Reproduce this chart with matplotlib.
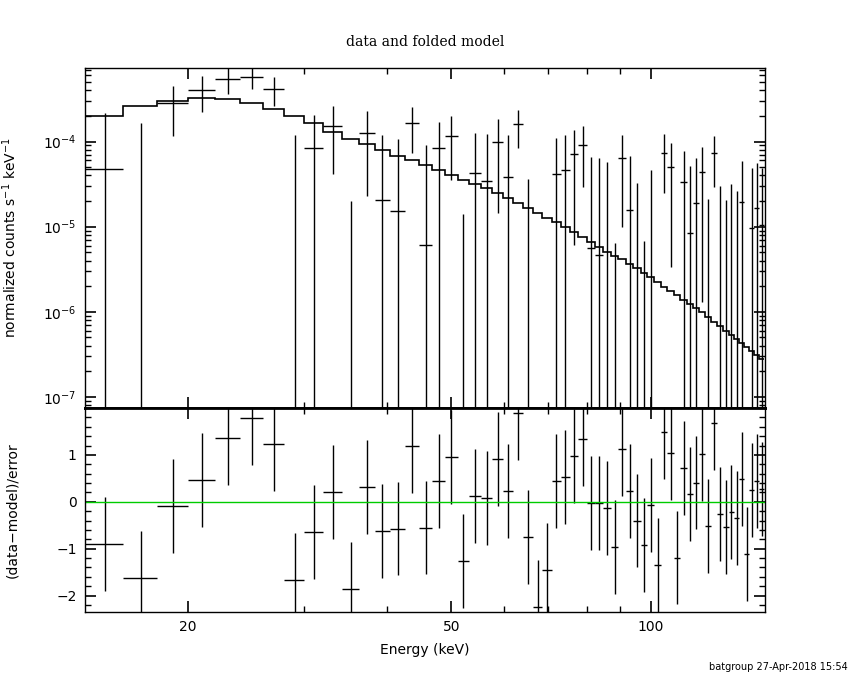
import numpy as np
import matplotlib
matplotlib.use('Agg')
import matplotlib.pyplot as plt
from matplotlib.ticker import FixedLocator, NullFormatter, LogLocator

# bin edges (keV)
edges = [14.0, 16.0, 18.0, 20.0, 22.0, 24.0, 26.0, 28.0, 30.0, 32.0,
         34.2, 36.3, 38.3, 40.4, 42.6, 44.7, 46.8, 48.9, 51.1, 53.2,
         55.4, 57.6, 59.8, 62.0, 64.2, 66.4, 68.6, 70.9, 73.2, 75.4,
         77.7, 80.1, 82.4, 84.7, 87.0, 89.3, 91.7, 94.1, 96.5, 98.8,
         101.2, 103.5, 105.9, 108.3, 110.8, 113.3, 115.8, 118.2, 120.6, 123.2,
         125.8, 128.5, 131.1, 133.6, 136.0, 138.4, 140.8, 143.3, 145.8, 148.3]

# folded model (counts s^-1 keV^-1)
model = [1.97e-4, 2.61e-4, 2.99e-4, 3.27e-4, 3.17e-4, 2.83e-4, 2.38e-4, 1.99e-4, 1.64e-4, 1.31e-4,
         1.07e-4, 9.31e-5, 7.92e-5, 6.85e-5, 6.04e-5, 5.32e-5, 4.65e-5, 4.06e-5, 3.51e-5, 3.18e-5,
         2.83e-5, 2.49e-5, 2.16e-5, 1.88e-5, 1.67e-5, 1.46e-5, 1.28e-5, 1.13e-5, 9.83e-6, 8.59e-6,
         7.50e-6, 6.55e-6, 5.82e-6, 5.09e-6, 4.52e-6, 4.13e-6, 3.64e-6, 3.24e-6, 2.83e-6, 2.54e-6,
         2.22e-6, 1.97e-6, 1.77e-6, 1.57e-6, 1.38e-6, 1.23e-6, 1.10e-6, 9.84e-7, 8.59e-7, 7.62e-7,
         6.79e-7, 5.97e-7, 5.36e-7, 4.77e-7, 4.32e-7, 3.87e-7, 3.47e-7, 3.09e-7, 2.78e-7]

# data points and 1-sigma errors
data = [4.73e-5, -5.1e-6, 2.85e-4, 4.03e-4, 5.42e-4, 5.71e-4, 4.17e-4, -3.0e-6, 8.36e-5, 1.52e-4,
        -8.1e-5, 1.26e-4, 2.06e-5, 1.53e-5, 1.64e-4, 6.04e-6, 8.36e-5, 1.17e-4, -6.67e-5, 4.25e-5,
        3.42e-5, 9.84e-5, 3.87e-5, 1.60e-4, -4.24e-5, -1.54e-4, -9.6e-5, 4.13e-5, 4.6e-5, 7.11e-5,
        9.14e-5, 5.66e-6, 4.65e-6, -2.7e-6, -5.06e-5, 6.38e-5, 1.57e-5, -1.64e-5, -4.32e-5, -7.7e-7,
        -6.08e-5, 7.31e-5, 5.0e-5, -5.3e-5, 3.33e-5, 8.36e-6, 1.88e-5, 4.36e-5, -2.12e-5, 7.31e-5,
        -9.8e-6, -2.31e-5, -8.3e-6, -1.35e-5, 1.97e-5, -4.29e-5, 9.57e-6, 1.64e-5, 1.05e-5]

error = [1.71e-4, 1.68e-4, 1.68e-4, 1.78e-4, 1.80e-4, 1.58e-4, 1.54e-4, 1.21e-4, 1.22e-4, 1.10e-4,
         1.01e-4, 1.03e-4, 9.74e-5, 9.27e-5, 9.10e-5, 8.50e-5, 8.80e-5, 8.20e-5, 8.08e-5, 8.40e-5,
         8.70e-5, 8.40e-5, 7.90e-5, 7.60e-5, 7.88e-5, 7.50e-5, 7.50e-5, 6.90e-5, 7.20e-5, 6.50e-5,
         6.20e-5, 6.00e-5, 5.90e-5, 6.00e-5, 5.70e-5, 5.40e-5, 5.27e-5, 4.91e-5, 5.00e-5, 4.73e-5,
         4.70e-5, 4.80e-5, 4.66e-5, 4.60e-5, 4.38e-5, 4.38e-5, 4.55e-5, 4.23e-5, 4.24e-5, 4.40e-5,
         4.02e-5, 4.39e-5, 4.01e-5, 4.00e-5, 3.91e-5, 3.90e-5, 3.90e-5, 3.97e-5, 3.90e-5]

# (data-model)/error
resid = [-0.90, -1.62, -0.09, 0.46, 1.36, 1.78, 1.23, -1.67, -0.64, 0.21,
         -1.86, 0.31, -0.62, -0.57, 1.19, -0.55, 0.44, 0.95, -1.26, 0.12,
         0.08, 0.91, 0.23, 1.89, -0.75, -2.25, -1.45, 0.44, 0.53, 0.97,
         1.33, -0.02, -0.02, -0.13, -0.96, 1.12, 0.23, -0.40, -0.92, -0.07,
         -1.34, 1.48, 1.04, -1.19, 0.72, 0.16, 0.41, 1.02, -0.52, 1.67,
         -0.26, -0.54, -0.22, -0.35, 0.49, -1.11, 0.25, 0.45, 0.27]

edges = np.array(edges)
model = np.array(model)
data = np.array(data)
error = np.array(error)
resid = np.array(resid)
e_lo, e_hi = edges[:-1], edges[1:]
e_mid = 0.5 * (e_lo + e_hi)

plt.rcParams['font.family'] = 'DejaVu Sans'

fig = plt.figure(figsize=(8.5, 6.8), dpi=100)
ax1 = fig.add_axes([0.1, 0.4, 0.8, 0.5])
ax2 = fig.add_axes([0.1, 0.1, 0.8, 0.3], sharex=ax1)

# top panel: data and folded model
ax1.set_xscale('log')
ax1.set_yscale('log')
floor = 1e-30
hi = data + error
lo = data - error
vis = hi > 0
ax1.vlines(e_mid[vis], np.where(lo[vis] > 0, lo[vis], floor), hi[vis], color='k', lw=1)
pos = data > 0
ax1.hlines(data[pos], e_lo[pos], e_hi[pos], color='k', lw=1)
ax1.stairs(model, edges, baseline=None, color='k', lw=1.2)
ax1.set_xlim(14.0, 148.7)
ax1.set_ylim(7.43e-8, 7.3e-4)
ax1.set_ylabel(r'normalized counts s$^{-1}$ keV$^{-1}$', fontsize=10)
ax1.yaxis.set_label_coords(-0.097, 0.5)
ax1.yaxis.set_major_locator(LogLocator(base=10, numticks=10))
ax1.yaxis.set_minor_locator(LogLocator(base=10, subs=np.arange(2, 10), numticks=10))
ax1.yaxis.set_minor_formatter(NullFormatter())
ax1.tick_params(labelbottom=False)
ax1.set_title('data and folded model', family='DejaVu Serif', fontsize=10, pad=16)

# bottom panel: residuals
ax2.vlines(e_mid, resid - 1, resid + 1, color='k', lw=1)
ax2.hlines(resid, e_lo, e_hi, color='k', lw=1)
ax2.axhline(0, color='#00cc00', lw=1)
ax2.set_ylim(-2.35, 2.0)
ax2.set_yticks([-2, -1, 0, 1])
ax2.yaxis.set_minor_locator(FixedLocator(np.arange(-2.2, 2.01, 0.2)))
ax2.set_ylabel('(data\u2212model)/error', fontsize=10)
ax2.yaxis.set_label_coords(-0.097, 0.5)
ax2.set_xlabel('Energy (keV)', fontsize=10, labelpad=6)

ax2.xaxis.set_major_locator(FixedLocator([20, 50, 100]))
ax2.xaxis.set_minor_locator(FixedLocator([30, 40, 60, 70, 80, 90]))
ax2.xaxis.set_major_formatter(plt.FuncFormatter(lambda v, p: '%d' % v))
ax2.xaxis.set_minor_formatter(NullFormatter())

for ax in (ax1, ax2):
    ax.tick_params(which='both', direction='in', top=True, right=True, labelsize=10, pad=6)
    ax.tick_params(which='major', length=8, width=1.2)
    ax.tick_params(which='minor', length=4, width=1)
    for s in ax.spines.values():
        s.set_linewidth(1)
ax1.spines['bottom'].set_linewidth(2)
ax2.spines['top'].set_linewidth(2)

fig.text(0.997, 0.012, 'batgroup 27-Apr-2018 15:54', ha='right', va='bottom', fontsize=7)

fig.savefig('out.png', dpi=100)
